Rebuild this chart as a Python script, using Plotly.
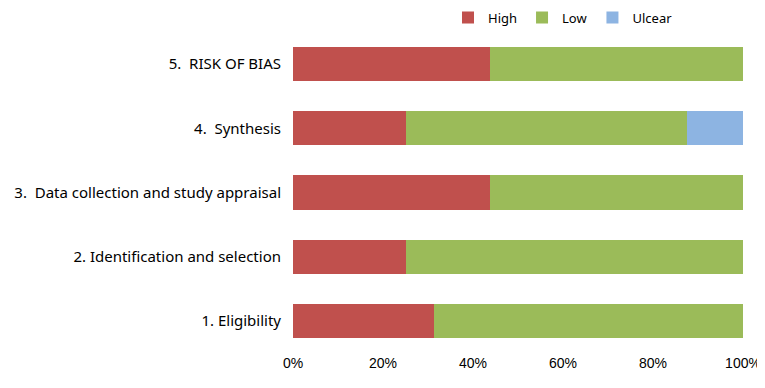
import plotly.graph_objects as go

categories = ["1. Eligibility", "2. Identification and selection",
              "3.  Data collection and study appraisal", "4.  Synthesis", "5.  RISK OF BIAS"]
high = [31.25, 25.0, 43.75, 25.0, 43.75]
low = [68.75, 75.0, 56.25, 62.5, 56.25]
unclear = [0.0, 0.0, 0.0, 12.5, 0.0]
tick_vals = [0, 20, 40, 60, 80, 100]
tick_text = ["0%", "20%", "40%", "60%", "80%", "100%"]

fig = go.Figure()
for name, vals, col in [("High", high, "#C0504D"), ("Low", low, "#9BBB59"), ("Ulcear", unclear, "#8DB4E2")]:
    fig.add_trace(go.Bar(y=categories, x=vals, name=name, orientation="h",
                         marker=dict(color=col, line=dict(width=0))))

fig.update_layout(
    barmode="stack", bargap=0.466,
    width=757, height=380,
    margin=dict(l=285, r=22, t=24, b=35, autoexpand=False),
    paper_bgcolor="white", plot_bgcolor="white",
    font=dict(family="Noto Sans, Open Sans, sans-serif", size=14, color="#000"),
    legend=dict(orientation="h", x=0.60, xanchor="center", y=0.975, yanchor="middle",
                yref="container", font=dict(family="Noto Sans", size=13),
                itemwidth=30, traceorder="normal", tracegroupgap=0,
                bgcolor="rgba(0,0,0,0)"),
    xaxis=dict(range=[0, 100], tickvals=tick_vals, ticktext=tick_text, showgrid=False,
               zeroline=False, showline=False, ticks="",
               tickfont=dict(family="Liberation Sans, Arial", size=14)),
    yaxis=dict(showgrid=False, zeroline=False, showline=False, ticks="",
               ticklabelstandoff=11, tickfont=dict(family="Noto Sans", size=15)),
)
fig.write_html("out.html")
